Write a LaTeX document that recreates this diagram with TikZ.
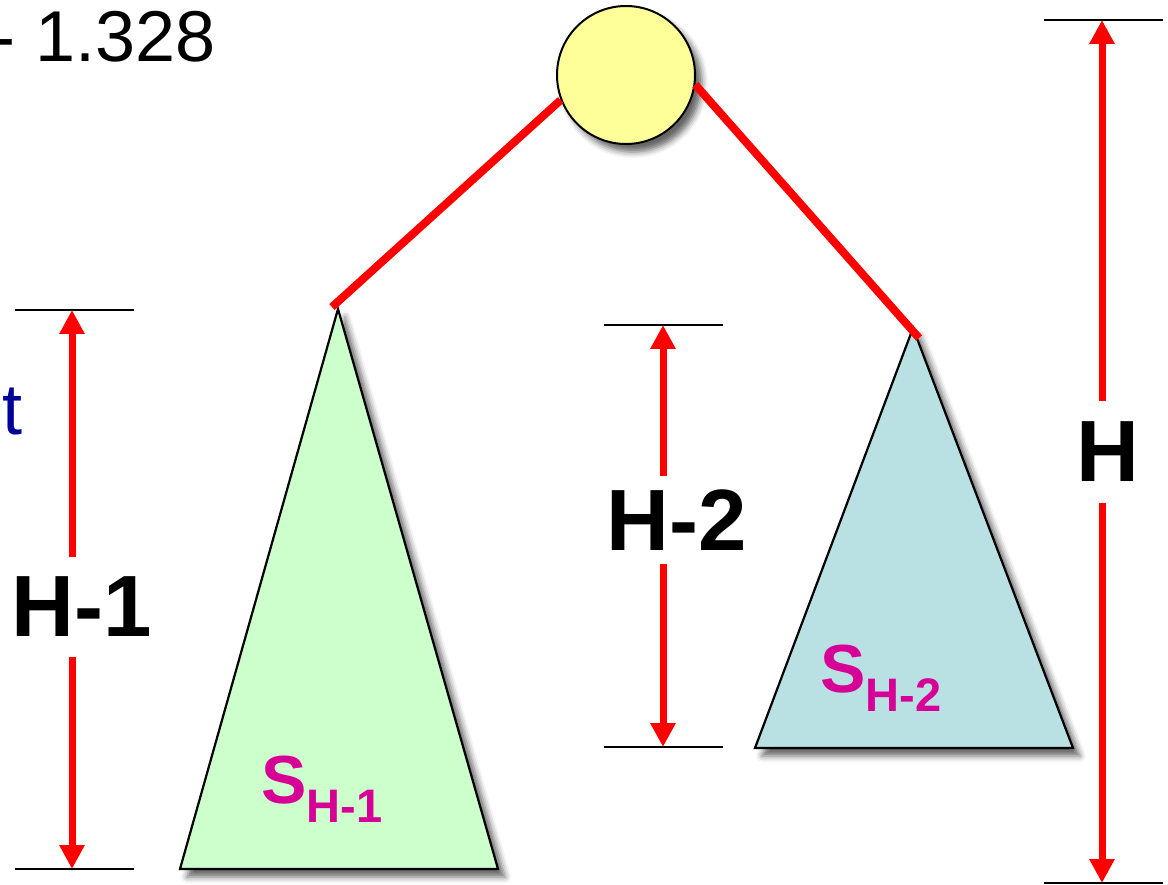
\documentclass[tikz,border=0pt]{standalone}
\usepackage{fontspec}
\setmainfont{Liberation Sans}
\usetikzlibrary{arrows.meta,shadows.blur}
\definecolor{rootfill}{RGB}{255,255,153}
\definecolor{leftfill}{RGB}{204,255,204}
\definecolor{rightfill}{RGB}{185,224,227}
\definecolor{subcol}{RGB}{214,0,150}
\definecolor{tblue}{RGB}{0,0,153}
\tikzset{
  shadowed/.style={blur shadow={shadow xshift=7pt,shadow yshift=-8pt,shadow blur radius=6pt,shadow opacity=60}},
  treebox/.style={draw=black,line width=2.2pt,line join=miter,shadowed},
  edge/.style={draw=red,line width=8pt},
  tick/.style={draw=black,line width=2pt},
  dimarrow/.style={draw=red,line width=7pt,-{Triangle[width=24pt,length=24pt]}},
  dimlabel/.style={inner xsep=2pt,font=\fontsize{87}{100}\selectfont\bfseries,text=black},
  sublabel/.style={inner sep=0pt,text=subcol,font=\fontsize{68}{80}\selectfont\bfseries},
}
\begin{document}
\begin{tikzpicture}[x=1pt,y=-1pt]
\useasboundingbox (0,0) rectangle (1168,885);
\clip (0,0) rectangle (1168,885);
% texts cut by the left edge, as in the reference
\node[inner sep=0pt,anchor=base east,font=\fontsize{72}{86}\selectfont] (formula) at (216,62) {- 1.328};
\node[inner sep=0pt,anchor=base east,text=tblue,font=\fontsize{72}{86}\selectfont] (tword) at (23,435) {t};
% triangles
\coordinate (lapex) at (338,309);
\coordinate (lbl) at (180,869);
\coordinate (lbr) at (498,869);
\coordinate (rapex) at (913,328);
\coordinate (rbl) at (755,748);
\coordinate (rbr) at (1073,748);
\path[treebox,fill=leftfill] (lapex) -- (lbr) -- (lbl) -- cycle;
\path[treebox,fill=rightfill] (rapex) -- (rbr) -- (rbl) -- cycle;
\node[sublabel,anchor=base west] (sl) at (261,803) {S\raisebox{-19pt}{\fontsize{47}{56}\selectfont H-1}};
\node[sublabel,anchor=base west] (sr) at (820,692) {S\raisebox{-19pt}{\fontsize{47}{56}\selectfont H-2}};
% root
\node[circle,draw=black,line width=2pt,fill=rootfill,minimum size=138pt,inner sep=0pt,shadowed] (root) at (626,75) {};
\coordinate (lend) at (332,307);
\coordinate (rend) at (919,338);
\draw[edge] (root.201) -- (lend);
\draw[edge] (root.-8) -- (rend);
% dimension H-1
\coordinate (t1a) at (15,310); \coordinate (t1b) at (134,310);
\coordinate (b1a) at (15,869); \coordinate (b1b) at (134,869);
\draw[tick] (t1a) -- (t1b);
\draw[tick] (b1a) -- (b1b);
\coordinate (a1top) at (72,310); \coordinate (a1bot) at (72,869);
\node[dimlabel,inner ysep=20pt] (h1) at (82,607) {H-1};
\draw[dimarrow] (h1.north -| a1top) -- (a1top);
\draw[dimarrow] (h1.south -| a1bot) -- (a1bot);
% dimension H-2
\coordinate (t2a) at (604,325); \coordinate (t2b) at (723,325);
\coordinate (b2a) at (604,747); \coordinate (b2b) at (723,747);
\draw[tick] (t2a) -- (t2b);
\draw[tick] (b2a) -- (b2b);
\coordinate (a2top) at (663,325); \coordinate (a2bot) at (663,747);
\node[dimlabel,inner ysep=13pt] (h2) at (677,520) {H-2};
\draw[dimarrow] (h2.north -| a2top) -- (a2top);
\draw[dimarrow] (h2.south -| a2bot) -- (a2bot);
% dimension H
\coordinate (t3a) at (1044,20); \coordinate (t3b) at (1163,20);
\coordinate (b3a) at (1044,883); \coordinate (b3b) at (1163,883);
\draw[tick] (t3a) -- (t3b);
\draw[tick] (b3a) -- (b3b);
\coordinate (a3top) at (1102,20); \coordinate (a3bot) at (1102,883);
\node[dimlabel,inner ysep=21pt] (h3) at (1108,452) {H};
\draw[dimarrow] (h3.north -| a3top) -- (a3top);
\draw[dimarrow] (h3.south -| a3bot) -- (a3bot);
\end{tikzpicture}
\end{document}
